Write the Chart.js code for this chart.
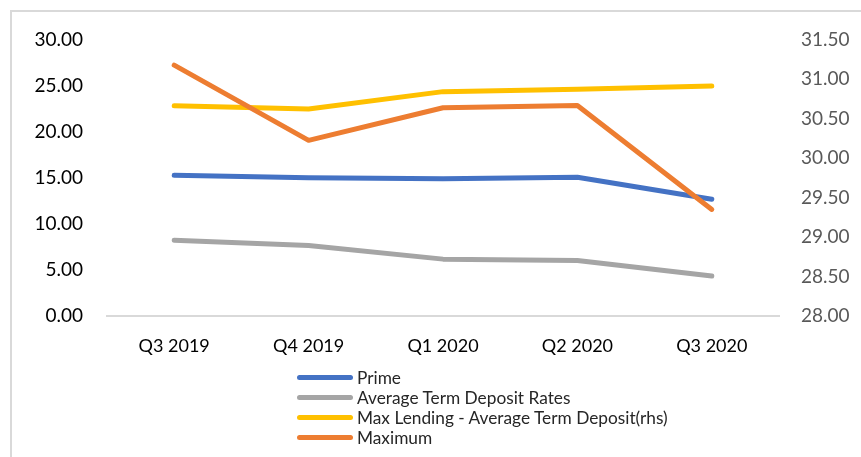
<!DOCTYPE html>
<html>
<head>
<meta charset="utf-8">
<script src="https://cdn.jsdelivr.net/npm/chart.js@4"></script>
<style>
  html, body { margin: 0; padding: 0; background: #fff; }
  #wrap { position: relative; width: 861px; height: 457px; overflow: hidden; }
  #frame {
    position: absolute; left: 10px; top: 10px; width: 900px; height: 500px;
    border-left: 2px solid #d9d9d9; border-top: 2px solid #d9d9d9;
  }
  canvas { position: absolute; left: 0; top: 0; }
  #legend {
    position: absolute; left: 297px; top: 367px;
    font-family: Lato, "Open Sans", sans-serif; font-size: 17.3px; color: #262626;
  }
  #legend .item { height: 20px; display: flex; align-items: center; }
  #legend .swatch { width: 56px; height: 5px; border-radius: 3px; margin-right: 4px; }
</style>
</head>
<body>
<div id="wrap">
  <div id="frame"></div>
  <canvas id="chart" width="861" height="457"></canvas>
  <div id="legend"></div>
</div>
<script>
const quarters = ["Q3 2019", "Q4 2019", "Q1 2020", "Q2 2020", "Q3 2020"]
const prime = [15.27, 14.99, 14.88, 15.05, 12.67]
const avgTermDeposit = [8.23, 7.66, 6.17, 6.03, 4.33]
const spreadRhs = [30.66, 30.62, 30.84, 30.87, 30.91]
const maximum = [27.22, 19.06, 22.6, 22.85, 11.56]

const font = { family: "Lato, 'Open Sans', sans-serif" }

const datasets = [
  { label: "Prime", data: prime, borderColor: "#4472C4", yAxisID: "y", order: 2 },
  { label: "Average Term Deposit Rates", data: avgTermDeposit, borderColor: "#A5A5A5", yAxisID: "y", order: 3 },
  { label: "Max Lending - Average Term Deposit(rhs)", data: spreadRhs, borderColor: "#FFC000", yAxisID: "y1", order: 1 },
  { label: "Maximum", data: maximum, borderColor: "#ED7D31", yAxisID: "y", order: 0 },
]
datasets.forEach((d) => {
  d.borderWidth = 5
  d.pointRadius = 0
  d.borderCapStyle = "round"
  d.borderJoinStyle = "round"
  d.tension = 0
  d.fill = false
})

const chart = new Chart(document.getElementById("chart"), {
  type: "line",
  data: { labels: quarters, datasets },
  options: {
    responsive: false,
    animation: false,
    layout: { padding: { top: 39.5, left: 0, right: 0, bottom: 0 } },
    plugins: { legend: { display: false }, tooltip: { enabled: false } },
    scales: {
      x: {
        offset: true,
        grid: { display: false, drawTicks: false },
        border: { display: true, color: "#d9d9d9", width: 2 },
        ticks: { color: "#000", padding: 19, font: { ...font, size: 18 } },
        afterFit: (s) => { s.height = 141 },
      },
      y: {
        position: "left",
        min: 0, max: 30,
        grid: { display: false, drawTicks: false },
        border: { display: false },
        ticks: { stepSize: 5, color: "#000", padding: 24, font: { ...font, size: 19 }, callback: (v) => v.toFixed(2) },
        afterFit: (s) => { s.width = 107 },
      },
      y1: {
        position: "right",
        min: 28, max: 31.5,
        grid: { display: false, drawTicks: false },
        border: { display: false },
        ticks: { stepSize: 0.5, color: "#595959", padding: 22, font: { ...font, size: 19 }, callback: (v) => v.toFixed(2) },
        afterFit: (s) => { s.width = 82 },
      },
    },
  },
})

// vertical legend below the plot, built from the chart datasets
const legend = document.getElementById("legend")
chart.data.datasets.forEach((d) => {
  const row = document.createElement("div")
  row.className = "item"
  const sw = document.createElement("span")
  sw.className = "swatch"
  sw.style.background = d.borderColor
  const txt = document.createElement("span")
  txt.textContent = d.label
  row.appendChild(sw)
  row.appendChild(txt)
  legend.appendChild(row)
})
</script>
</body>
</html>
